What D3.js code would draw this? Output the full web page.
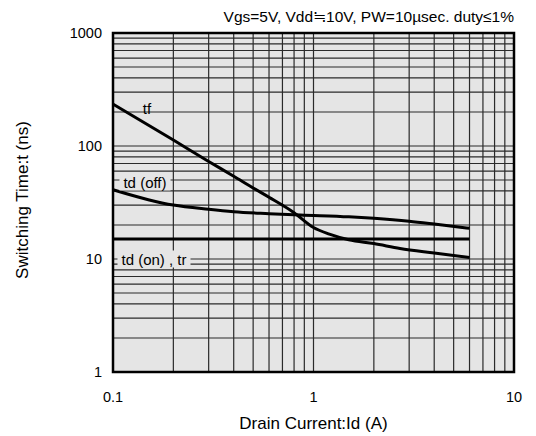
<!DOCTYPE html>
<html>
<head>
<meta charset="utf-8">
<script src="https://cdn.jsdelivr.net/npm/d3@7"></script>
<style>
  body { margin: 0; background: #fff; }
  svg { font-family: "Liberation Sans", Arial, "Noto Sans CJK JP", sans-serif; }
</style>
</head>
<body>
<svg id="chart" width="536" height="436"></svg>
<script>
// curve data
var tfId = [0.1, 0.2, 0.3, 0.4, 0.5, 0.6, 0.8, 1, 1.2, 1.5, 2, 2.7, 4, 6];
var tfVal = [235, 113, 73, 54, 42.5, 35.2, 25.7, 19, 16.6, 14.8, 13.7, 12.4, 11.3, 10.3];

var tdOffId = [0.1, 0.15, 0.2, 0.3, 0.4, 0.6, 0.86, 1.5, 2, 3, 4, 6];
var tdOffVal = [41, 33.5, 30, 27.5, 26.2, 25.2, 24.5, 23.6, 22.9, 21.6, 20.4, 18.7];

var tdOnId = [0.1, 6];
var tdOnVal = [15, 15];

var xTicks = [0.1, 1, 10];
var yTicks = [1, 10, 100, 1000];

var titleText = "Vgs=5V, Vdd\u225210V, PW=10\u00b5sec. duty\u22641%";

var svg = d3.select("#chart");
var margin = { left: 113, top: 33, right: 22, bottom: 64 };
var w = 536 - margin.left - margin.right;
var h = 436 - margin.top - margin.bottom;

var x = d3.scaleLog().domain([0.1, 10]).range([0, w]);
var y = d3.scaleLog().domain([1, 1000]).range([h, 0]);

var g = svg.append("g").attr("transform", "translate(" + margin.left + "," + margin.top + ")");

g.append("rect").attr("width", w).attr("height", h).attr("fill", "#e5e5e5");

// minor + major grid, every 1..9 in each decade
var xGrid = [];
[0.1, 1].forEach(function (d) { for (var k = 1; k < 10; k++) xGrid.push(d * k); });
var yGrid = [];
[1, 10, 100].forEach(function (d) { for (var k = 1; k < 10; k++) yGrid.push(d * k); });

g.selectAll(".vgrid").data(xGrid.slice(1)).enter().append("line")
  .attr("x1", function (d) { return x(d); }).attr("x2", function (d) { return x(d); })
  .attr("y1", 0).attr("y2", h)
  .attr("stroke", "#2a2a2a").attr("stroke-width", 1.2);

g.selectAll(".hgrid").data(yGrid.slice(1)).enter().append("line")
  .attr("x1", 0).attr("x2", w)
  .attr("y1", function (d) { return y(d); }).attr("y2", function (d) { return y(d); })
  .attr("stroke", "#2a2a2a").attr("stroke-width", 1.2);

// curves
var line = d3.line()
  .x(function (d) { return x(d[0]); })
  .y(function (d) { return y(d[1]); })
  .curve(d3.curveMonotoneX);

function drawCurve(ids, vals) {
  g.append("path")
    .datum(d3.zip(ids, vals))
    .attr("d", line)
    .attr("fill", "none")
    .attr("stroke", "#000")
    .attr("stroke-width", 3);
}
drawCurve(tfId, tfVal);
drawCurve(tdOffId, tdOffVal);
drawCurve(tdOnId, tdOnVal);

// curve labels with grey boxes over the grid
function label(txt, cx, cy, boxed) {
  var t = g.append("text")
    .attr("x", cx).attr("y", cy)
    .attr("text-anchor", "middle")
    .attr("dominant-baseline", "central")
    .attr("font-size", 15)
    .text(txt);
  if (boxed) {
    var bb = t.node().getBBox();
    g.insert("rect", function () { return t.node(); })
      .attr("x", bb.x - 4).attr("y", bb.y)
      .attr("width", bb.width + 8).attr("height", bb.height)
      .attr("fill", "#e5e5e5");
  }
}
label("tf", 34, 75, false);
label("td (off)", 32, 149, true);
label("td (on) , tr", 41, y(10), true);

// frame
g.append("rect").attr("width", w).attr("height", h)
  .attr("fill", "none").attr("stroke", "#000").attr("stroke-width", 2.5);

// tick labels
g.selectAll(".xt").data(xTicks).enter().append("text")
  .attr("x", function (d) { return x(d); })
  .attr("y", h + 30)
  .attr("text-anchor", "middle")
  .attr("font-size", 14.5)
  .text(function (d) { return d; });

g.selectAll(".yt").data(yTicks).enter().append("text")
  .attr("x", -11)
  .attr("y", function (d) { return y(d); })
  .attr("dy", "0.35em")
  .attr("text-anchor", "end")
  .attr("font-size", 14.5)
  .text(function (d) { return d; });

// titles
svg.append("text")
  .attr("x", margin.left + w).attr("y", 22)
  .attr("text-anchor", "end").attr("font-size", 15.5)
  .text(titleText);

svg.append("text")
  .attr("x", margin.left + w / 2).attr("y", 429)
  .attr("text-anchor", "middle").attr("font-size", 17)
  .text("Drain Current:Id (A)");

svg.append("text")
  .attr("transform", "translate(28,200) rotate(-90)")
  .attr("text-anchor", "middle").attr("font-size", 17)
  .text("Switching Time:t (ns)");
</script>
</body>
</html>
